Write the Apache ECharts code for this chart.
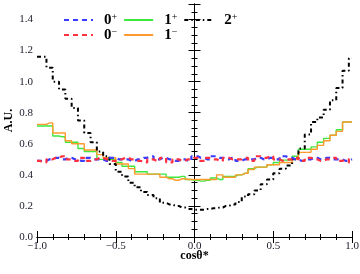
<!DOCTYPE html>
<html>
<head>
<meta charset="utf-8">
<script src="https://cdn.jsdelivr.net/npm/echarts@6/dist/echarts.min.js"></script>
<style>html,body{margin:0;padding:0;background:#fff;}#c{width:360px;height:274px;}</style>
</head>
<body>
<div id="c"></div>
<script>
// bin centres: cos(theta*) = -1 + 0.04 k, k = 0..50
var cosTheta = [];
for (var k = 0; k <= 50; k++) cosTheta.push(+(-1 + 0.04 * k).toFixed(2));

var xTicks = [-1.0, -0.5, 0.0, 0.5, 1.0];
var yTicks = [0.0, 0.2, 0.4, 0.6, 0.8, 1.0, 1.2, 1.4];

var zeroPlus = [0.49,0.49,0.50,0.51,0.50,0.51,0.50,0.49,0.51,0.50,0.50,0.49,0.51,0.50,0.50,0.49,0.50,0.51,0.52,0.50,0.51,0.50,0.49,0.50,0.49,0.52,0.51,0.50,0.52,0.51,0.50,0.51,0.49,0.50,0.50,0.51,0.50,0.51,0.50,0.52,0.51,0.50,0.49,0.50,0.51,0.50,0.51,0.50,0.50,0.49,0.50];
var zeroMinus = [0.49,0.48,0.50,0.51,0.52,0.50,0.49,0.51,0.49,0.50,0.51,0.50,0.49,0.50,0.51,0.50,0.49,0.48,0.50,0.49,0.51,0.48,0.50,0.49,0.50,0.51,0.49,0.51,0.50,0.49,0.51,0.50,0.50,0.51,0.49,0.52,0.51,0.52,0.50,0.49,0.50,0.51,0.49,0.51,0.50,0.49,0.50,0.51,0.49,0.50,0.48];
var onePlus = [0.715,0.715,0.715,0.65,0.645,0.61,0.61,0.57,0.55,0.55,0.50,0.50,0.50,0.48,0.455,0.455,0.42,0.42,0.405,0.405,0.405,0.385,0.385,0.39,0.37,0.365,0.36,0.365,0.38,0.37,0.39,0.39,0.40,0.41,0.44,0.45,0.45,0.465,0.48,0.495,0.495,0.52,0.565,0.565,0.58,0.61,0.635,0.655,0.69,0.74,0.74];
var oneMinus = [0.725,0.725,0.735,0.67,0.67,0.62,0.60,0.60,0.56,0.56,0.53,0.51,0.51,0.47,0.47,0.44,0.405,0.405,0.405,0.405,0.385,0.375,0.365,0.375,0.37,0.37,0.37,0.37,0.37,0.40,0.385,0.385,0.40,0.41,0.435,0.45,0.45,0.465,0.465,0.48,0.48,0.50,0.545,0.545,0.565,0.59,0.62,0.655,0.68,0.74,0.74];
var twoPlus = [1.16,1.16,1.09,1.00,0.95,0.89,0.83,0.75,0.67,0.61,0.55,0.52,0.47,0.42,0.39,0.35,0.32,0.29,0.27,0.25,0.22,0.21,0.20,0.19,0.18,0.175,0.175,0.18,0.185,0.19,0.20,0.21,0.225,0.26,0.275,0.30,0.34,0.37,0.41,0.44,0.46,0.50,0.57,0.66,0.74,0.77,0.82,0.88,0.96,1.07,1.15];

var seriesNames = ['0+', '0-', '1+', '1-', '2+'];

function pairs(vals) { return cosTheta.map(function (x, i) { return [x, vals[i]]; }); }

var serif = 'Liberation Serif, DejaVu Serif, serif';
var tickColor = '#1a1a2a';

function legendFmt(name) {
  var base = name.charAt(0);
  var sign = name.charAt(1) === '-' ? '\u2212' : '+';
  return '{b|' + base + '}{s|' + sign + '}';
}
var legendText = {
  fontFamily: serif, color: '#000', padding: [0, 0, 0, 6],
  rich: {
    b: { fontFamily: serif, fontSize: 15, color: '#000', fontWeight: 'bold' },
    s: { fontFamily: serif, fontSize: 10, color: '#000', verticalAlign: 'top', padding: [0, 0, 6, 0] }
  }
};

function mkSeries(name, vals, color, width, type, z) {
  return {
    name: name, type: 'line', step: 'middle', data: pairs(vals),
    symbol: 'none', showSymbol: false, silent: true, animation: false, z: z,
    lineStyle: { color: color, width: width, type: type },
    itemStyle: { color: color }
  };
}

var legendBase = { itemWidth: 29, itemHeight: 12, itemGap: 6, formatter: legendFmt,
  textStyle: legendText, selectedMode: false, itemStyle: { opacity: 0 } };

var chart = echarts.init(document.getElementById('c'), null, { renderer: 'canvas' });
chart.setOption({
  backgroundColor: '#fff',
  animation: false,
  grid: { left: 37, right: 8, top: 4, bottom: 37, outerBoundsMode: 'none' },
  legend: [
    Object.assign({ data: ['0+', '1+', '2+'], left: 58, top: 7 }, legendBase),
    Object.assign({ data: ['0-', '1-'], left: 58, top: 22 }, legendBase)
  ],
  xAxis: [{
    type: 'value', min: -1, max: 1, interval: 0.5,
    name: 'cos\u03b8*', nameLocation: 'middle', nameGap: 13, nameMoveOverlap: false,
    nameTextStyle: { fontFamily: serif, fontSize: 12, fontWeight: 'bold', color: '#000' },
    axisLine: { lineStyle: { color: '#000', width: 1 } },
    axisTick: { inside: true, length: 6, lineStyle: { color: '#000' } },
    minorTick: { show: true, splitNumber: 5, length: 3, lineStyle: { color: '#000' } },
    splitLine: { show: false },
    axisLabel: { margin: 4, fontFamily: serif, fontSize: 11, color: tickColor,
      formatter: function (v) { return v.toFixed(1).replace('-', '\u2212'); } }
  }, {
    type: 'value', min: -1, max: 1, interval: 0.5, position: 'top',
    axisLine: { lineStyle: { color: '#000', width: 1 } },
    axisTick: { inside: true, length: 6, lineStyle: { color: '#000' } },
    minorTick: { show: true, splitNumber: 5, length: 3, lineStyle: { color: '#000' } },
    splitLine: { show: false }, axisLabel: { show: false }
  }],
  yAxis: [{
    type: 'value', min: 0, max: 1.5, interval: 0.2,
    name: 'A.U.', nameLocation: 'middle', nameGap: 22, nameRotate: 90, nameMoveOverlap: false,
    nameTextStyle: { fontFamily: serif, fontSize: 12, fontWeight: 'bold', color: '#000' },
    axisLine: { show: true, lineStyle: { color: '#000', width: 1 } },
    axisTick: { show: true, inside: true, length: 6, lineStyle: { color: '#000' } },
    minorTick: { show: true, splitNumber: 4, length: 3, lineStyle: { color: '#000' } },
    splitLine: { show: false },
    axisLabel: { margin: 4, fontFamily: serif, fontSize: 11, color: tickColor,
      formatter: function (v) { return v > 1.45 ? '' : v.toFixed(1); } }
  }, {
    type: 'value', min: 0, max: 1.5, interval: 0.2, position: 'right',
    axisLine: { show: true, lineStyle: { color: '#000', width: 1 } },
    axisTick: { show: true, inside: true, length: 6, lineStyle: { color: '#000' } },
    minorTick: { show: true, splitNumber: 4, length: 3, lineStyle: { color: '#000' } },
    splitLine: { show: false }, axisLabel: { show: false }
  }],
  series: [
    mkSeries(seriesNames[2], onePlus, '#3ee83e', 1.4, 'solid', 2),
    mkSeries(seriesNames[3], oneMinus, '#ff9a2e', 1.4, 'solid', 3),
    mkSeries(seriesNames[4], twoPlus, '#000000', 2, [4, 3, 1.5, 3], 4),
    mkSeries(seriesNames[0], zeroPlus, '#3b3bff', 2.2, [5, 4], 5),
    mkSeries(seriesNames[1], zeroMinus, '#ff3040', 2.2, [5, 4], 6)
  ]
});
</script>
</body>
</html>
